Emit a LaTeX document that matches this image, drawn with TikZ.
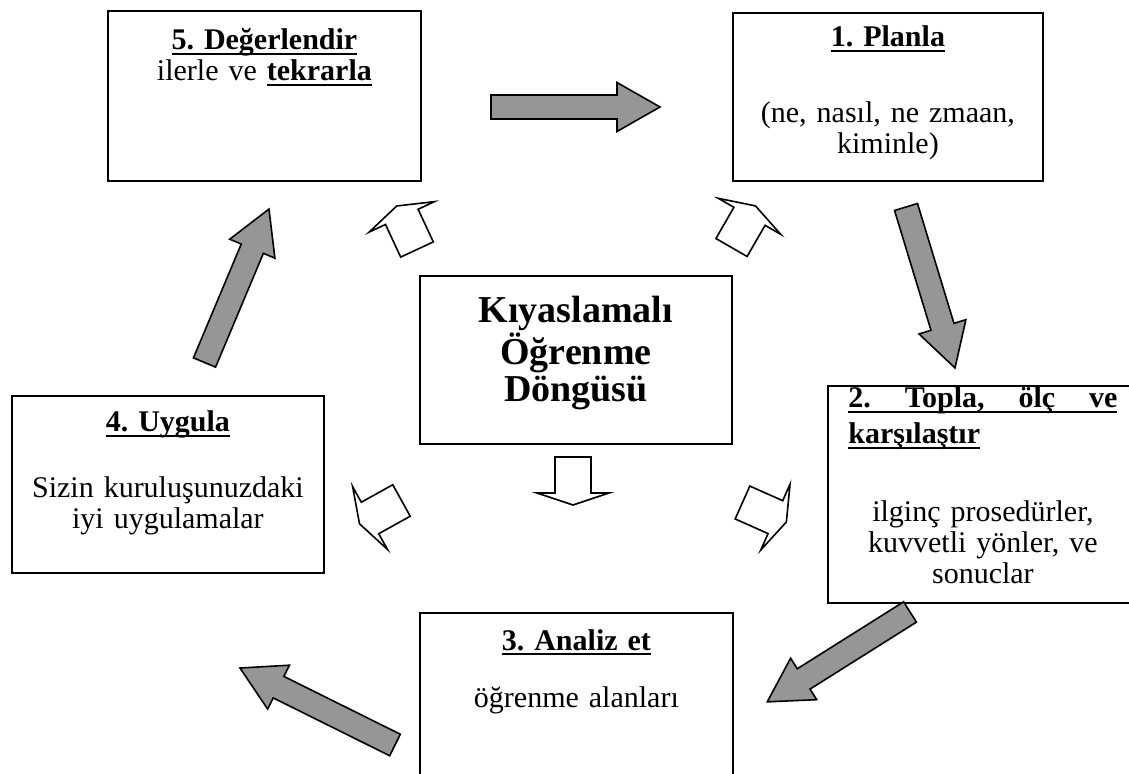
\documentclass[tikz,border=0pt]{standalone}
\usepackage{fontspec}
\setmainfont{Liberation Serif}
\usepackage{tikz}
\usetikzlibrary{calc, positioning}
\definecolor{cArrow}{RGB}{150,150,150}
\tikzset{
  framebox/.style={rectangle, draw=black, line width=0.9pt,
                   anchor=north west, inner sep=0pt},
  boxtext/.style={inner sep=0pt, align=center, anchor=base,
                  font=\fontsize{15}{15.5}\selectfont},
  coretext/.style={inner sep=0pt, align=center, anchor=base,
                   font=\fontsize{19}{18.5}\selectfont\bfseries},
  grayarrow/.style={draw=black, line width=0.8pt, fill=cArrow},
  hollow/.style={draw=black, line width=0.8pt, fill=white}
}
\frenchspacing
\newsavebox\undlbox
\newcommand{\undl}[1]{\leavevmode\sbox\undlbox{#1}%
  \rlap{\rule[-2.4pt]{\wd\undlbox}{0.9pt}}\usebox\undlbox}
% thick grey block arrow between two named coordinates
\newcommand{\blockarrow}[2]{%
  \draw[grayarrow] let \p1=($(#2)-(#1)$), \n1={atan2(\y1,\x1)},
    \n2={veclen(\x1,\y1)} in [shift={(#1)}, rotate=\n1]
    (0pt,-6pt) -- ({\n2*1pt-21.5pt},-6pt) -- ({\n2*1pt-21.5pt},-12.25pt)
    -- ({\n2*1pt},0pt) -- ({\n2*1pt-21.5pt},12.25pt)
    -- ({\n2*1pt-21.5pt},6pt) -- (0pt,6pt) -- cycle;}
% small white arrow, tail centre and angle
\newcommand{\hollowarrow}[2]{%
  \draw[hollow, shift={(#1)}, rotate=#2]
    (0pt,-9pt) -- (18pt,-9pt) -- (18pt,-18pt) -- (24pt,0pt)
    -- (18pt,18pt) -- (18pt,9pt) -- (0pt,9pt) -- cycle;}

\begin{document}
\begin{tikzpicture}[x=0.5pt, y=-0.5pt]
  \useasboundingbox (0,0) rectangle (1129,774);
  \clip (0,0) rectangle (1129,774);

  % boxes
  \node[framebox, minimum width=156.5pt, minimum height=85pt] (b5) at (107,10) {};
  \node[framebox, minimum width=155pt, minimum height=84pt] (b1) at (732,12) {};
  \node[framebox, minimum width=156pt, minimum height=84pt] (core) at (419,275) {};
  \node[framebox, minimum width=156pt, minimum height=88.5pt] (b4) at (11,395) {};
  \node[framebox, minimum width=157pt, minimum height=108.5pt] (b2) at (827,385) {};
  \node[framebox, minimum width=156.5pt, minimum height=95pt] (b3) at (419,612) {};

  % texts
  \node[boxtext, text width=150pt] (t5) at ([yshift=-20pt]b5.north)
    {\undl{\bfseries 5. Değerlendir}\\ ilerle ve \undl{\bfseries tekrarla}};
  \node[boxtext, text width=150pt] (t1) at ([yshift=-17.5pt]b1.north)
    {\undl{\bfseries 1. Planla}\\[22.5pt] (ne, nasıl, ne zmaan,\\ kiminle)};
  \node[coretext, text width=150pt] (tc) at ([yshift=-24pt]core.north)
    {Kıyaslamalı\\ Öğrenme\\ Döngüsü};
  \node[boxtext, text width=150pt] (t4) at ([yshift=-18.5pt]b4.north)
    {\undl{\bfseries 4. Uygula}\\[17.5pt] Sizin kuruluşunuzdaki\\ iyi uygulamalar};
  \node[boxtext, align=left, anchor=base west, text width=134.5pt] (t2)
    at ([xshift=10.5pt, yshift=-11.5pt]b2.north west)
    {\undl{\bfseries\hbox to\linewidth{2.\hfill Topla,\hfill ölç\hfill ve}}\\[2.5pt]
     \undl{\bfseries karşılaştır}\\[23.5pt]
     \makebox[\linewidth]{ilginç prosedürler,}\\
     \makebox[\linewidth]{kuvvetli yönler, ve}\\
     \makebox[\linewidth]{sonuclar}};
  \node[boxtext, text width=150pt] (t3) at ([yshift=-19pt]b3.north)
    {\undl{\bfseries 3. Analiz et}\\[13pt] öğrenme alanları};

  % grey cycle arrows
  \coordinate (a51s) at (491,107);   \coordinate (a51e) at (660,107);
  \coordinate (a12s) at (906,207);   \coordinate (a12e) at (955,368);
  \coordinate (a23s) at (910,612);   \coordinate (a23e) at (767,702);
  \coordinate (a34s) at (395,745);   \coordinate (a34e) at (240,668);
  \coordinate (a45s) at (204.5,362.5); \coordinate (a45e) at (269,209);
  \blockarrow{a51s}{a51e}
  \blockarrow{a12s}{a12e}
  \blockarrow{a23s}{a23e}
  \blockarrow{a34s}{a34e}
  \blockarrow{a45s}{a45e}

  % white arrows round the centre
  \hollowarrow{417,249.5}{115}
  \hollowarrow{731.5,247.5}{60}
  \hollowarrow{401.5,500.5}{209}
  \hollowarrow{742.5,502.5}{-24}
  \hollowarrow{573,457}{-90}
\end{tikzpicture}
\end{document}
